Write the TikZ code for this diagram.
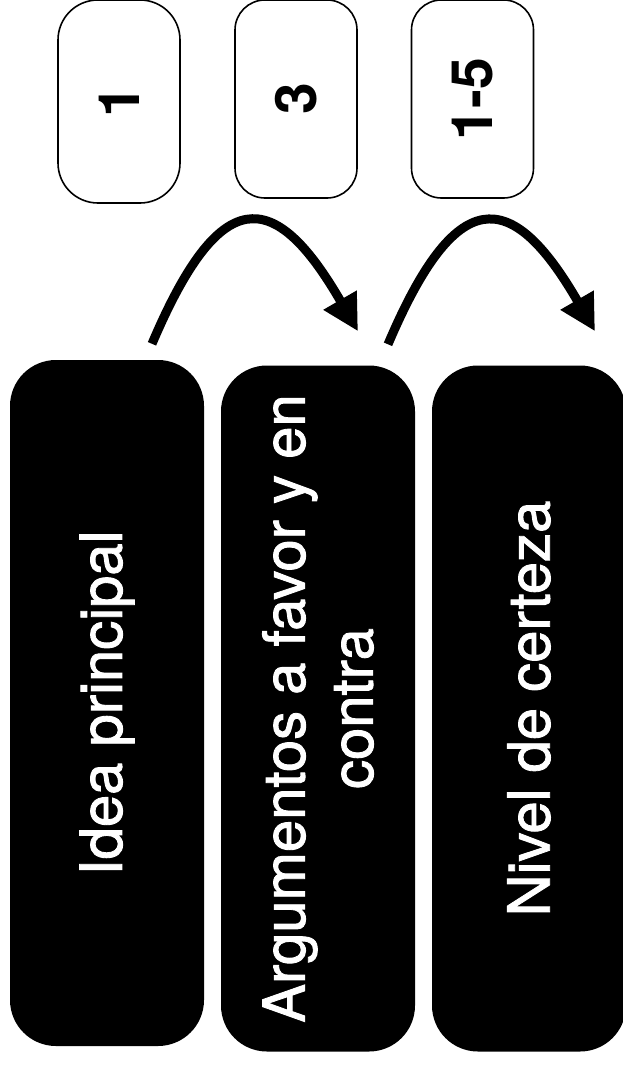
\documentclass[tikz,border=0pt]{standalone}
\usepackage{fontspec}
\setmainfont{TeX Gyre Heros}
\newfontfamily\medio[FakeBold=1.5]{TeX Gyre Heros}
\usetikzlibrary{arrows.meta}

\begin{document}
\begin{tikzpicture}[x=1pt,y=-1pt,
    bloque/.style={rectangle, rounded corners=46pt, fill=black, text=white,
        rotate=90, minimum width=686pt, minimum height=194pt, inner sep=0pt,
        align=center, font=\medio\fontsize{58}{68}\selectfont},
    numero/.style={rectangle, rounded corners=30pt, draw=black, line width=1.6pt,
        rotate=90, minimum width=198pt, minimum height=122pt, inner sep=0pt,
        font=\bfseries\fontsize{57}{64}\selectfont},
    salto/.style={-{Triangle[length=36pt,width=36pt]}, line width=9pt}
]
    \useasboundingbox (0,0) rectangle (622,1065);

    % bloques
    \node[bloque] (idea) at (107,703) {Idea principal};
    \node[bloque] (argumentos) at (318,708.5) {Argumentos a favor y en\\contra};
    \node[bloque] (nivel) at (529,708.5) {Nivel de certeza};

    % numeros
    \node[numero, rounded corners=40pt, minimum width=203pt] (uno) at (119,101.5) {1};
    \node[numero] (tres) at (296,99) {3};
    \node[numero] (rango) at (472.5,99) {1-5};

    % saltos
    \draw[salto] ([xshift=45pt,yshift=16pt]idea.east)
        .. controls +(67:173pt) and +(120:169pt) ..
        ([xshift=40pt,yshift=34pt]argumentos.east);
    \draw[salto] ([xshift=70pt,yshift=21pt]argumentos.east)
        .. controls +(67:173pt) and +(120:169pt) ..
        ([xshift=66pt,yshift=34pt]nivel.east);
\end{tikzpicture}
\end{document}
